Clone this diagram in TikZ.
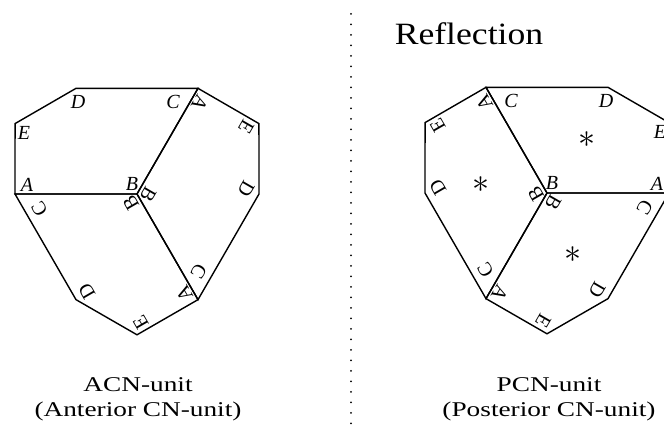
\documentclass[tikz,border=0pt]{standalone}
\usepackage{fontspec}
\setmainfont{Liberation Serif}
\usepackage{tikz}
\usetikzlibrary{positioning}
\tikzset{
  unitedge/.style={line width=1.4pt, line join=miter},
  cornerlabel/.style={font=\fontsize{20}{20}\selectfont\itshape, inner sep=0pt},
  turnlabel/.style={font=\fontsize{20}{20}\selectfont, inner sep=0pt},
  starmark/.style={inner sep=0pt},
  unittext/.style={font=\fontsize{21}{25}\selectfont, anchor=base, inner sep=0pt},
  titletext/.style={font=\fontsize{31}{31}\selectfont, anchor=base, inner sep=0pt},
  divider/.style={line width=2pt, line cap=round, dash pattern=on 0pt off 10.5pt}
}
% one pentagon of a CN-unit: #1 turn of the piece, #2 turn of the letters,
% #3 letter style, #4 name prefix
\newcommand{\cnpiece}[4]{%
  \begin{scope}[rotate=#1]
    \draw[unitedge] (0,0) -- (180:122) -- (150:140.8) -- (120:122) -- (60:122) -- cycle;
    \node[#3, rotate=#2] (#4A) at (-110,9) {A};
    \node[#3, rotate=#2] (#4E) at (-113,61) {E};
    \node[#3, rotate=#2] (#4D) at (-59,92) {D};
    \node[#3, rotate=#2] (#4C) at (36,92) {C};
    \node[#3, rotate=#2] (#4B) at (-5,10) {B};
  \end{scope}}

\begin{document}
\begin{tikzpicture}[x=1pt, y=1pt]
  \useasboundingbox (0,0) rectangle (664,430);

  % ACN-unit
  \begin{scope}[shift={(137,236)}]
    \cnpiece{0}{0}{cornerlabel}{at}
    \cnpiece{-120}{-120}{turnlabel}{ar}
    \cnpiece{120}{120}{turnlabel}{ab}
  \end{scope}

  % PCN-unit (mirror image, letters kept readable)
  \begin{scope}[shift={(547,237)}, xscale=-1]
    \cnpiece{0}{0}{cornerlabel}{pt}
    \cnpiece{-120}{120}{turnlabel}{pl}
    \cnpiece{120}{-120}{turnlabel}{pb}
    \node[starmark] (st1) at (-40,53) {\scalebox{3.4}{$\ast$}};
    \begin{scope}[rotate=-120]
      \node[starmark] (st2) at (-40,53) {\scalebox{3.4}{$\ast$}};
    \end{scope}
    \begin{scope}[rotate=120]
      \node[starmark] (st3) at (-40,53) {\scalebox{3.4}{$\ast$}};
    \end{scope}
  \end{scope}

  % dotted divider
  \coordinate (divtop) at (351,416);
  \coordinate (divbot) at (351,6);
  \draw[divider] (divtop) -- (divbot);

  % texts
  \node[titletext] (refl) at (469,385) {\scalebox{1.15}[1]{Reflection}};
  \node[unittext] (acn) at (138,38) {\scalebox{1.3}[1]{ACN-unit}};
  \node[unittext] (acnlong) at (138,13) {\scalebox{1.3}[1]{(Anterior CN-unit)}};
  \node[unittext] (pcn) at (549,38) {\scalebox{1.3}[1]{PCN-unit}};
  \node[unittext] (pcnlong) at (549,13) {\scalebox{1.3}[1]{(Posterior CN-unit)}};
\end{tikzpicture}
\end{document}
